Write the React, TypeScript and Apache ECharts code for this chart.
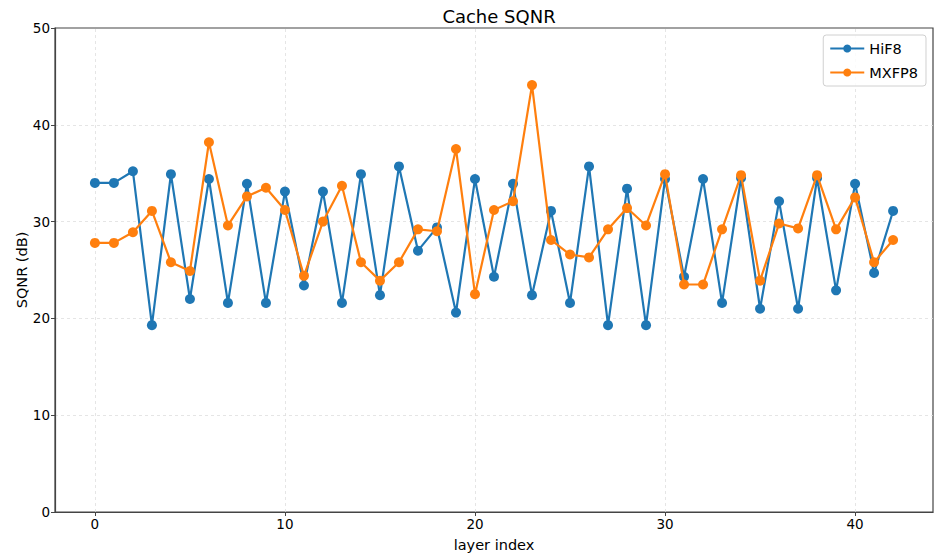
import React, { useEffect, useRef } from "react";
import * as echarts from "echarts";

const layerIndex = [0,1,2,3,4,5,6,7,8,9,10,11,12,13,14,15,16,17,18,19,20,21,22,23,24,25,26,27,28,29,30,31,32,33,34,35,36,37,38,39,40,41,42];
const hif8 = [34.0,34.0,35.2,19.3,34.9,22.0,34.4,21.6,33.9,21.6,33.1,23.4,33.1,21.6,34.9,22.4,35.7,27.0,29.4,20.6,34.4,24.3,33.9,22.4,31.1,21.6,35.7,19.3,33.4,19.3,34.4,24.3,34.4,21.6,34.5,21.0,32.1,21.0,34.5,22.9,33.9,24.7,31.1];
const mxfp8 = [27.8,27.8,28.9,31.1,25.8,24.9,38.2,29.6,32.6,33.5,31.2,24.4,30.0,33.7,25.8,23.9,25.8,29.2,29.0,37.5,22.5,31.2,32.1,44.1,28.1,26.6,26.3,29.2,31.4,29.6,34.9,23.5,23.5,29.2,34.8,23.9,29.8,29.3,34.8,29.2,32.5,25.8,28.1];
const xTicks = [0, 10, 20, 30, 40];
const seriesNames = ["HiF8", "MXFP8"];
const colors = ["#1f77b4", "#ff7f0e"];

const FONT = "DejaVu Sans";

export default function App() {
  const ref = useRef<HTMLDivElement>(null);
  useEffect(() => {
    document.body.style.margin = "0";
    const chart = echarts.init(ref.current!, null, { renderer: "svg" });
    const mk = (vals: number[]) => layerIndex.map((x, i) => [x, vals[i]]);
    const gridLine = { color: "#dedede", type: [3, 3], width: 0.8 };
    chart.setOption({
      animation: false,
      backgroundColor: "#ffffff",
      textStyle: { fontFamily: FONT },
      title: {
        text: "Cache SQNR",
        left: 494,
        textAlign: "center",
        top: 2,
        textStyle: { fontFamily: FONT, fontSize: 18, fontWeight: "normal", color: "#000" },
      },
      legend: {
        orient: "vertical",
        right: 15,
        top: 35,
        data: seriesNames,
        itemWidth: 34,
        itemHeight: 10,
        itemGap: 9,
        padding: [6, 8, 6, 6],
        borderColor: "#d0d0d0",
        borderWidth: 1,
        borderRadius: 3,
        backgroundColor: "rgba(255,255,255,0.85)",
        textStyle: { fontFamily: FONT, fontSize: 14.5, color: "#000" },
      },
      grid: {
        left: 55,
        top: 28,
        right: 8,
        bottom: 44,
        outerBoundsMode: "none",
        containLabel: false,
        show: true,
        borderColor: "#444",
        borderWidth: 1.2,
        backgroundColor: "transparent",
      },
      xAxis: {
        type: "value",
        min: -2.1,
        max: 44.1,
        name: "layer index",
        nameLocation: "middle",
        nameGap: 25,
        nameMoveOverlap: false,
        nameTextStyle: { fontFamily: FONT, fontSize: 14.5, color: "#000" },
        axisLine: { show: true, onZero: false, lineStyle: { color: "#444", width: 1.2 } },
        axisTick: { show: true, customValues: xTicks, length: 4, lineStyle: { color: "#444" } },
        axisLabel: { customValues: xTicks, fontFamily: FONT, fontSize: 13.5, color: "#000", margin: 5 },
        splitLine: { show: false },
      },
      yAxis: {
        type: "value",
        min: 0,
        max: 50,
        interval: 10,
        name: "SQNR (dB)",
        nameLocation: "middle",
        nameGap: 26,
        nameMoveOverlap: false,
        nameRotate: 90,
        nameTextStyle: { fontFamily: FONT, fontSize: 14.5, color: "#000" },
        axisLine: { show: true, onZero: false, lineStyle: { color: "#444", width: 1.2 } },
        axisTick: { show: true, length: 4, lineStyle: { color: "#444" } },
        axisLabel: { fontFamily: FONT, fontSize: 13.5, color: "#000", margin: 5 },
        splitLine: { show: true, showMinLine: false, showMaxLine: false, lineStyle: gridLine },
      },
      series: [
        {
          name: seriesNames[0],
          type: "line",
          data: mk(hif8),
          color: colors[0],
          symbol: "circle",
          symbolSize: 10,
          lineStyle: { width: 2.2, color: colors[0] },
          itemStyle: { color: colors[0] },
          z: 3,
          markLine: {
            silent: true,
            symbol: "none",
            label: { show: false },
            lineStyle: gridLine,
            data: xTicks.map((v) => ({ xAxis: v })),
            z: 1,
          },
        },
        {
          name: seriesNames[1],
          type: "line",
          data: mk(mxfp8),
          color: colors[1],
          symbol: "circle",
          symbolSize: 10,
          lineStyle: { width: 2.2, color: colors[1] },
          itemStyle: { color: colors[1] },
          z: 4,
        },
      ],
    });
    return () => chart.dispose();
  }, []);
  return <div ref={ref} style={{ width: 941, height: 556 }} />;
}
